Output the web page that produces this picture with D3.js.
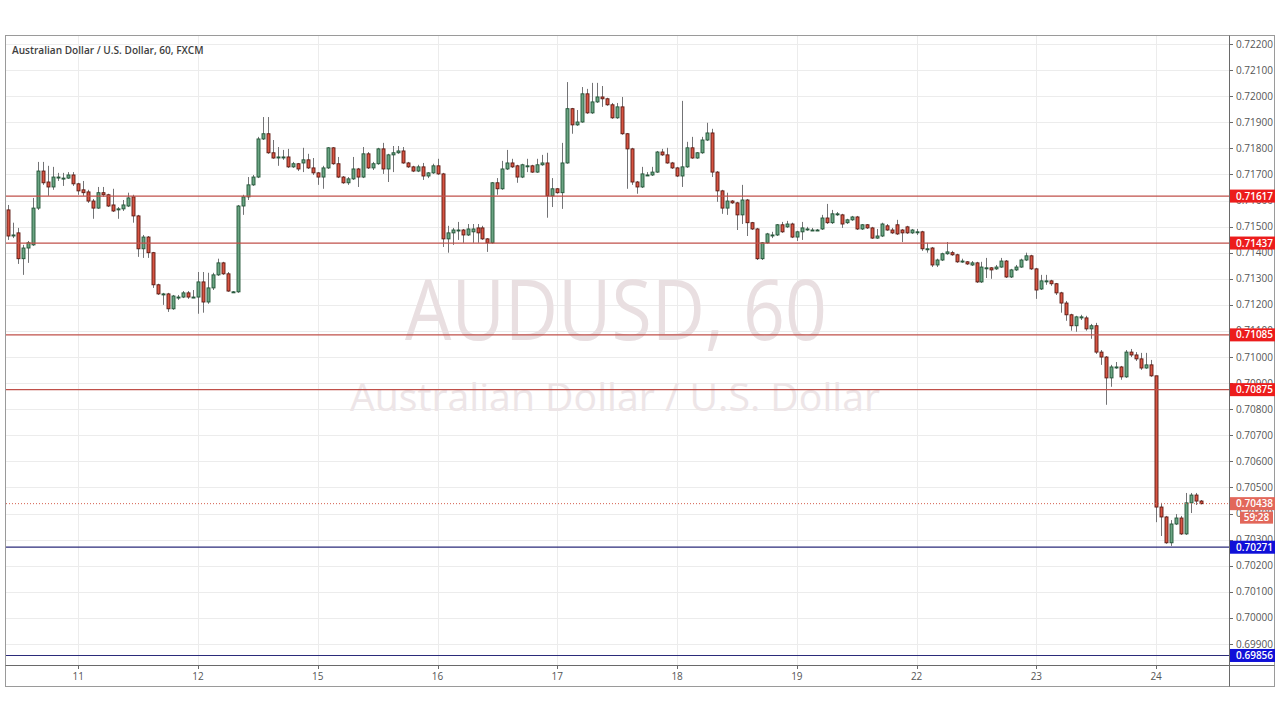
<!DOCTYPE html>
<html><head><meta charset="utf-8">
<script src="https://cdn.jsdelivr.net/npm/d3@7"></script>
<style>
body{margin:0;background:#fff;}
svg{display:block;font-family:"Open Sans","Noto Sans",sans-serif;}
</style>
</head><body>
<svg id="chart" width="1280" height="717"></svg>
<script>
// ---------- DATA (AUD/USD, 60 min, FXCM) ----------
const openVals = [
0.71564,0.71464,0.71476,0.71377,0.71418,0.71430,0.71571,0.71713,0.71671,0.71652,
0.71690,0.71686,0.71686,0.71698,0.71664,0.71641,0.71633,0.71598,0.71571,0.71630,
0.71622,0.71583,0.71568,0.71568,0.71579,0.71614,0.71541,0.71415,0.71460,0.71400,
0.71277,0.71242,0.71242,0.71185,0.71230,0.71230,0.71246,0.71230,0.71230,0.71288,
0.71211,0.71265,0.71315,0.71361,0.71319,0.71250,0.71250,0.71579,0.71614,0.71660,
0.71690,0.71836,0.71856,0.71783,0.71767,0.71767,0.71767,0.71729,0.71741,0.71744,
0.71756,0.71725,0.71706,0.71690,0.71725,0.71802,0.71741,0.71690,0.71668,0.71683,
0.71721,0.71690,0.71779,0.71725,0.71741,0.71798,0.71721,0.71775,0.71783,0.71790,
0.71744,0.71729,0.71713,0.71729,0.71694,0.71706,0.71733,0.71702,0.71453,0.71476,
0.71487,0.71487,0.71468,0.71480,0.71495,0.71495,0.71453,0.71438,0.71668,0.71645,
0.71721,0.71744,0.71733,0.71690,0.71733,0.71733,0.71709,0.71737,0.71744,0.71618,
0.71645,0.71630,0.71744,0.71952,0.71890,0.71901,0.72009,0.71936,0.71978,0.71997,
0.71990,0.71967,0.71917,0.71959,0.71856,0.71798,0.71671,0.71652,0.71698,0.71698,
0.71709,0.71786,0.71775,0.71744,0.71725,0.71694,0.71729,0.71802,0.71763,0.71783,
0.71832,0.71859,0.71709,0.71637,0.71571,0.71598,0.71591,0.71545,0.71602,0.71515,
0.71491,0.71377,0.71438,0.71468,0.71468,0.71507,0.71499,0.71510,0.71460,0.71480,
0.71491,0.71487,0.71487,0.71491,0.71533,0.71515,0.71549,0.71545,0.71515,0.71526,
0.71537,0.71491,0.71507,0.71495,0.71456,0.71464,0.71503,0.71487,0.71507,0.71487,
0.71499,0.71476,0.71480,0.71480,0.71415,0.71418,0.71353,0.71372,0.71396,0.71400,
0.71392,0.71368,0.71365,0.71353,0.71361,0.71288,0.71342,0.71342,0.71338,0.71345,
0.71368,0.71307,0.71334,0.71345,0.71372,0.71388,0.71338,0.71261,0.71292,0.71292,
0.71281,0.71246,0.71207,0.71162,0.71120,0.71150,0.71150,0.71108,0.71120,0.71019,
0.71000,0.70920,0.70962,0.70962,0.70924,0.71019,0.71008,0.70993,0.70958,0.70970,
0.70928,0.70425,0.70387,0.70288,0.70360,0.70383,0.70322,0.70441,0.70471,0.70448];

const highVals = [
0.71583,0.71515,0.71495,0.71430,0.71445,0.71610,0.71748,0.71748,0.71733,0.71729,
0.71706,0.71706,0.71709,0.71709,0.71668,0.71675,0.71641,0.71606,0.71652,0.71652,
0.71626,0.71645,0.71575,0.71602,0.71630,0.71622,0.71545,0.71468,0.71464,0.71403,
0.71281,0.71246,0.71246,0.71238,0.71238,0.71253,0.71253,0.71257,0.71326,0.71326,
0.71323,0.71323,0.71377,0.71365,0.71326,0.71253,0.71583,0.71622,0.71690,0.71698,
0.71844,0.71920,0.71920,0.71832,0.71805,0.71794,0.71798,0.71748,0.71744,0.71802,
0.71779,0.71763,0.71709,0.71733,0.71805,0.71805,0.71767,0.71694,0.71690,0.71767,
0.71725,0.71805,0.71786,0.71748,0.71802,0.71821,0.71779,0.71809,0.71809,0.71805,
0.71748,0.71733,0.71737,0.71744,0.71709,0.71741,0.71760,0.71706,0.71503,0.71495,
0.71518,0.71491,0.71510,0.71510,0.71510,0.71503,0.71456,0.71671,0.71686,0.71752,
0.71794,0.71760,0.71737,0.71741,0.71760,0.71737,0.71760,0.71775,0.71783,0.71686,
0.71648,0.71821,0.72054,0.71955,0.71947,0.72035,0.72028,0.72051,0.72051,0.72039,
0.71994,0.71974,0.71974,0.71997,0.71859,0.71802,0.71675,0.71729,0.71709,0.71729,
0.71790,0.71798,0.71802,0.71748,0.71729,0.71982,0.71825,0.71844,0.71786,0.71844,
0.71898,0.71875,0.71713,0.71641,0.71630,0.71602,0.71595,0.71660,0.71606,0.71518,
0.71495,0.71441,0.71476,0.71480,0.71510,0.71518,0.71522,0.71515,0.71484,0.71518,
0.71499,0.71495,0.71491,0.71545,0.71587,0.71564,0.71556,0.71549,0.71530,0.71541,
0.71541,0.71510,0.71510,0.71499,0.71491,0.71515,0.71510,0.71495,0.71526,0.71491,
0.71503,0.71491,0.71491,0.71484,0.71438,0.71422,0.71377,0.71400,0.71441,0.71407,
0.71396,0.71377,0.71368,0.71368,0.71365,0.71365,0.71380,0.71345,0.71353,0.71380,
0.71372,0.71338,0.71353,0.71377,0.71400,0.71392,0.71342,0.71315,0.71315,0.71296,
0.71284,0.71250,0.71215,0.71166,0.71158,0.71162,0.71158,0.71127,0.71131,0.71027,
0.71004,0.70970,0.70981,0.70966,0.71027,0.71031,0.71019,0.71016,0.71016,0.70989,
0.70928,0.70441,0.70391,0.70375,0.70398,0.70391,0.70479,0.70479,0.70479,0.70452];

const lowVals = [
0.71449,0.71456,0.71357,0.71315,0.71361,0.71426,0.71564,0.71660,0.71618,0.71641,
0.71675,0.71656,0.71683,0.71656,0.71622,0.71618,0.71591,0.71530,0.71568,0.71614,
0.71575,0.71556,0.71530,0.71560,0.71575,0.71515,0.71384,0.71380,0.71380,0.71265,
0.71238,0.71200,0.71173,0.71181,0.71219,0.71226,0.71223,0.71226,0.71166,0.71170,
0.71204,0.71257,0.71311,0.71315,0.71250,0.71246,0.71246,0.71545,0.71602,0.71656,
0.71686,0.71832,0.71779,0.71760,0.71733,0.71756,0.71725,0.71725,0.71713,0.71709,
0.71721,0.71698,0.71660,0.71645,0.71721,0.71737,0.71686,0.71664,0.71660,0.71679,
0.71652,0.71686,0.71721,0.71717,0.71737,0.71702,0.71671,0.71709,0.71779,0.71741,
0.71725,0.71709,0.71709,0.71679,0.71686,0.71702,0.71698,0.71422,0.71400,0.71430,
0.71449,0.71438,0.71464,0.71438,0.71438,0.71449,0.71403,0.71434,0.71622,0.71641,
0.71717,0.71725,0.71668,0.71686,0.71709,0.71706,0.71706,0.71733,0.71534,0.71575,
0.71626,0.71568,0.71741,0.71856,0.71886,0.71898,0.71932,0.71932,0.71974,0.71959,
0.71963,0.71913,0.71913,0.71852,0.71645,0.71660,0.71626,0.71648,0.71694,0.71694,
0.71706,0.71771,0.71741,0.71721,0.71690,0.71652,0.71725,0.71760,0.71760,0.71779,
0.71828,0.71690,0.71595,0.71549,0.71545,0.71587,0.71487,0.71510,0.71464,0.71487,
0.71372,0.71372,0.71434,0.71456,0.71464,0.71476,0.71495,0.71456,0.71445,0.71449,
0.71484,0.71484,0.71484,0.71487,0.71510,0.71510,0.71541,0.71495,0.71510,0.71522,
0.71487,0.71487,0.71491,0.71453,0.71453,0.71460,0.71484,0.71472,0.71468,0.71441,
0.71472,0.71472,0.71468,0.71407,0.71400,0.71345,0.71345,0.71368,0.71392,0.71388,
0.71361,0.71361,0.71353,0.71349,0.71284,0.71284,0.71303,0.71300,0.71334,0.71342,
0.71303,0.71303,0.71330,0.71342,0.71368,0.71334,0.71223,0.71257,0.71277,0.71273,
0.71238,0.71170,0.71139,0.71101,0.71097,0.71142,0.71101,0.71070,0.71012,0.70970,
0.70817,0.70886,0.70955,0.70913,0.70920,0.71000,0.70985,0.70951,0.70955,0.70924,
0.70367,0.70314,0.70284,0.70276,0.70356,0.70318,0.70318,0.70402,0.70433,0.70435];

const closeVals = [
0.71464,0.71468,0.71377,0.71418,0.71438,0.71571,0.71713,0.71668,0.71652,0.71690,
0.71690,0.71686,0.71698,0.71664,0.71637,0.71630,0.71598,0.71571,0.71630,0.71622,
0.71579,0.71560,0.71568,0.71583,0.71610,0.71541,0.71415,0.71460,0.71400,0.71277,
0.71242,0.71242,0.71185,0.71234,0.71230,0.71246,0.71230,0.71230,0.71288,0.71211,
0.71265,0.71315,0.71361,0.71319,0.71253,0.71250,0.71579,0.71614,0.71660,0.71690,
0.71836,0.71856,0.71783,0.71763,0.71767,0.71767,0.71729,0.71741,0.71721,0.71756,
0.71725,0.71706,0.71690,0.71725,0.71802,0.71741,0.71690,0.71668,0.71683,0.71721,
0.71690,0.71779,0.71725,0.71741,0.71798,0.71721,0.71775,0.71783,0.71790,0.71744,
0.71729,0.71713,0.71729,0.71694,0.71706,0.71733,0.71702,0.71453,0.71476,0.71487,
0.71487,0.71468,0.71491,0.71491,0.71476,0.71453,0.71438,0.71668,0.71645,0.71721,
0.71744,0.71729,0.71690,0.71737,0.71733,0.71709,0.71737,0.71744,0.71618,0.71645,
0.71630,0.71744,0.71952,0.71890,0.71901,0.72009,0.71936,0.71978,0.71997,0.71990,
0.71967,0.71917,0.71959,0.71856,0.71798,0.71671,0.71652,0.71702,0.71698,0.71709,
0.71786,0.71775,0.71744,0.71725,0.71694,0.71729,0.71802,0.71763,0.71783,0.71832,
0.71859,0.71709,0.71637,0.71571,0.71598,0.71591,0.71545,0.71602,0.71515,0.71491,
0.71377,0.71438,0.71472,0.71468,0.71507,0.71480,0.71510,0.71460,0.71480,0.71495,
0.71491,0.71487,0.71487,0.71533,0.71515,0.71549,0.71549,0.71510,0.71526,0.71537,
0.71491,0.71507,0.71495,0.71456,0.71464,0.71510,0.71487,0.71476,0.71472,0.71476,
0.71476,0.71487,0.71480,0.71415,0.71415,0.71353,0.71372,0.71396,0.71403,0.71392,
0.71365,0.71368,0.71357,0.71361,0.71288,0.71345,0.71342,0.71334,0.71345,0.71368,
0.71307,0.71334,0.71345,0.71372,0.71388,0.71338,0.71257,0.71292,0.71292,0.71281,
0.71246,0.71207,0.71162,0.71120,0.71154,0.71154,0.71108,0.71120,0.71019,0.71000,
0.70920,0.70962,0.70962,0.70924,0.71019,0.71008,0.70993,0.70958,0.70970,0.70928,
0.70425,0.70387,0.70288,0.70360,0.70383,0.70322,0.70441,0.70471,0.70448,0.70438];

const dayLabels = ["11","12","15","16","17","18","19","22","23","24"];
const dayBarIndex = [14,38,62,86,110,134,158,182,206,230];
const priceTickLabels = ["0.69900","0.70000","0.70100","0.70200","0.70300","0.70400","0.70500","0.70600",
  "0.70700","0.70800","0.70900","0.71000","0.71100","0.71200","0.71300","0.71400","0.71500","0.71600",
  "0.71700","0.71800","0.71900","0.72000","0.72100","0.72200"];
const resistanceLevels = [0.71617, 0.71437, 0.71085, 0.70875];
const supportLevels = [0.70271, 0.69856];
const lastPrice = 0.70438;
const countdown = "59:28";
const titleText = "Australian Dollar / U.S. Dollar, 60, FXCM";
const watermarkBig = "AUDUSD, 60";
const watermarkSmall = "Australian Dollar / U.S. Dollar";

// ---------- LAYOUT ----------
const W = 1280, H = 717;
const plot = {left: 6, right: 1229, top: 36, bottom: 665};
const frame = {left: 5.5, right: 1274.5, top: 35.5, bottom: 686.5};

const svg = d3.select("#chart");
svg.append("rect").attr("width", W).attr("height", H).attr("fill", "#ffffff");

const n = openVals.length;
const x = d3.scaleLinear().domain([14, 230]).range([78.3, 78.3 + 216 * 4.99]);
const y = d3.scaleLinear().domain([0.699, 0.722]).range([644, 44]);

const clipId = "plotclip";
svg.append("defs").append("clipPath").attr("id", clipId)
  .append("rect").attr("x", plot.left).attr("y", plot.top)
  .attr("width", plot.right - plot.left).attr("height", plot.bottom - plot.top);

const priceTicks = priceTickLabels.map(Number);

// grid
const grid = svg.append("g").attr("clip-path", `url(#${clipId})`);
grid.selectAll("line.h").data(priceTicks).join("line")
  .attr("x1", plot.left).attr("x2", plot.right)
  .attr("y1", d => Math.round(y(d)) + 0.5).attr("y2", d => Math.round(y(d)) + 0.5)
  .attr("stroke", "#ececec").attr("stroke-width", 1);
grid.selectAll("line.v").data(dayBarIndex).join("line")
  .attr("x1", d => Math.round(x(d)) + 0.5).attr("x2", d => Math.round(x(d)) + 0.5)
  .attr("y1", plot.top).attr("y2", plot.bottom)
  .attr("stroke", "#ececec").attr("stroke-width", 1);

// watermark
const wm = svg.append("g").attr("clip-path", `url(#${clipId})`);
wm.append("text").text(watermarkBig)
  .attr("x", 616).attr("y", 340).attr("text-anchor", "middle")
  .attr("font-size", 84).attr("fill", "#e9dfe1")
  .attr("textLength", 422).attr("lengthAdjust", "spacingAndGlyphs");
wm.append("text").text(watermarkSmall)
  .attr("x", 615).attr("y", 411).attr("text-anchor", "middle")
  .attr("font-size", 38).attr("fill", "#ede5e7")
  .attr("textLength", 530).attr("lengthAdjust", "spacingAndGlyphs");

// candles
const bars = d3.range(n).map(i => ({i, o: openVals[i], h: highVals[i], l: lowVals[i], c: closeVals[i]}));
const cg = svg.append("g").attr("clip-path", `url(#${clipId})`);
cg.selectAll("line.wick").data(bars).join("line")
  .attr("x1", d => Math.round(x(d.i)) + 0.5).attr("x2", d => Math.round(x(d.i)) + 0.5)
  .attr("y1", d => y(d.h)).attr("y2", d => y(d.l))
  .attr("stroke", "#737375").attr("stroke-width", 1);
cg.selectAll("rect.body").data(bars).join("rect")
  .attr("x", d => Math.round(x(d.i)) - 1)
  .attr("width", 3)
  .attr("y", d => Math.min(y(d.o), y(d.c)))
  .attr("height", d => Math.max(1, Math.abs(y(d.o) - y(d.c))))
  .attr("fill", d => d.c >= d.o ? "#6ba583" : "#d75442")
  .attr("stroke", d => d.c >= d.o ? "#225437" : "#5b1a13")
  .attr("stroke-width", 0.9);

// horizontal levels
const lv = svg.append("g").attr("clip-path", `url(#${clipId})`);
lv.selectAll("line.res").data(resistanceLevels).join("line")
  .attr("x1", plot.left).attr("x2", plot.right)
  .attr("y1", d => y(d)).attr("y2", d => y(d))
  .attr("stroke", "#c0504a").attr("stroke-width", 1.3);
lv.selectAll("line.sup").data(supportLevels).join("line")
  .attr("x1", plot.left).attr("x2", plot.right)
  .attr("y1", d => y(d)).attr("y2", d => y(d))
  .attr("stroke", "#2b2b7a").attr("stroke-width", 1.2);
lv.append("line")
  .attr("x1", plot.left).attr("x2", plot.right)
  .attr("y1", y(lastPrice)).attr("y2", y(lastPrice))
  .attr("stroke", "#d4604f").attr("stroke-width", 1).attr("stroke-dasharray", "1,2");

// frame & axes
svg.append("rect").attr("x", frame.left).attr("y", frame.top)
  .attr("width", frame.right - frame.left).attr("height", frame.bottom - frame.top)
  .attr("fill", "none").attr("stroke", "#9a9a9a");
svg.append("line").attr("x1", plot.right + 0.5).attr("x2", plot.right + 0.5)
  .attr("y1", frame.top).attr("y2", frame.bottom).attr("stroke", "#6a6a6a");
svg.append("line").attr("x1", frame.left).attr("x2", frame.right)
  .attr("y1", plot.bottom + 0.5).attr("y2", plot.bottom + 0.5).attr("stroke", "#6a6a6a");

// price axis
const pa = svg.append("g");
pa.selectAll("line").data(priceTicks).join("line")
  .attr("x1", plot.right).attr("x2", plot.right + 4)
  .attr("y1", d => Math.round(y(d)) + 0.5).attr("y2", d => Math.round(y(d)) + 0.5)
  .attr("stroke", "#6a6a6a");
pa.selectAll("text").data(priceTickLabels).join("text")
  .text(d => d)
  .attr("x", 1236).attr("y", d => y(+d) + 3.5)
  .attr("font-size", 10).attr("fill", "#555555");

// time axis
const ta = svg.append("g");
ta.selectAll("line").data(dayBarIndex).join("line")
  .attr("x1", d => Math.round(x(d)) + 0.5).attr("x2", d => Math.round(x(d)) + 0.5)
  .attr("y1", plot.bottom).attr("y2", plot.bottom + 4).attr("stroke", "#6a6a6a");
ta.selectAll("text").data(dayLabels).join("text")
  .text(d => d)
  .attr("x", (d, k) => x(dayBarIndex[k])).attr("y", 680)
  .attr("text-anchor", "middle").attr("font-size", 10).attr("fill", "#555555");

// level labels on axis
function axisBox(val, fill, label) {
  const yy = y(val);
  svg.append("rect").attr("x", plot.right + 1).attr("y", yy - 6.5)
    .attr("width", 45).attr("height", 13).attr("fill", fill);
  svg.append("text").text(label).attr("x", 1236).attr("y", yy + 3.5)
    .attr("font-size", 10).attr("font-weight", 600).attr("fill", "#ffffff");
}
resistanceLevels.forEach(v => axisBox(v, "#ec1c1c", v.toFixed(5)));
supportLevels.forEach(v => axisBox(v, "#1010d8", v.toFixed(5)));
axisBox(lastPrice, "#e2675a", lastPrice.toFixed(5));
const ly = y(lastPrice);
svg.append("rect").attr("x", 1240).attr("y", ly + 8).attr("width", 33).attr("height", 12).attr("fill", "#e2675a");
svg.append("text").text(countdown).attr("x", 1256.5).attr("y", ly + 17.5)
  .attr("text-anchor", "middle").attr("font-size", 10).attr("font-weight", 600).attr("fill", "#ffffff");

// title
svg.append("text").text(titleText).attr("x", 12).attr("y", 53.5)
  .attr("font-size", 10.1).attr("font-weight", 600).attr("fill", "#3e3e3e");
</script>
</body></html>
